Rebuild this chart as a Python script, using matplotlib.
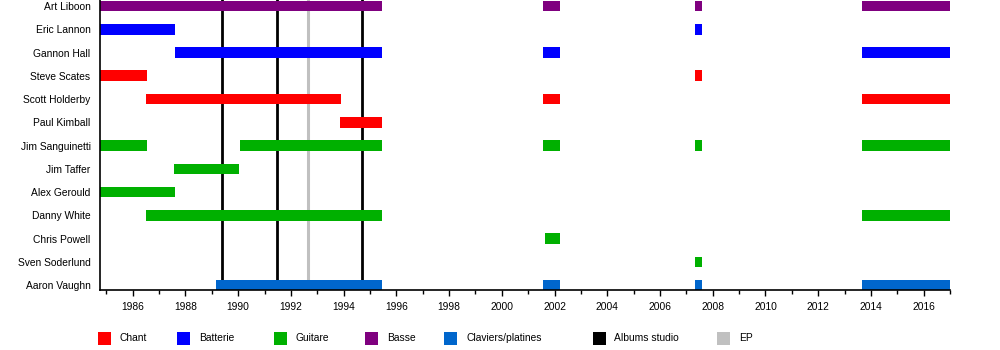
import matplotlib
matplotlib.use("Agg")
import matplotlib.pyplot as plt
from matplotlib.patches import Rectangle
from matplotlib.ticker import MultipleLocator

plt.rcParams["font.family"] = ["Liberation Sans", "DejaVu Sans"]

# Timeline range
START = 1984.77
END = 2017.0

# Members, top to bottom, with their role
members = ["Art Liboon", "Eric Lannon", "Gannon Hall", "Steve Scates",
           "Scott Holderby", "Paul Kimball", "Jim Sanguinetti", "Jim Taffer",
           "Alex Gerould", "Danny White", "Chris Powell", "Sven Soderlund",
           "Aaron Vaughn"]
member_roles = ["Basse", "Batterie", "Batterie", "Chant",
                "Chant", "Chant", "Guitare", "Guitare",
                "Guitare", "Guitare", "Guitare", "Guitare",
                "Claviers/platines"]

# Active periods of each member (start, end)
periods = [
    [(START, 1995.45), (2001.56, 2002.19), (2007.34, 2007.61), (2013.68, END)],
    [(START, 1987.60), (2007.34, 2007.61)],
    [(1987.60, 1995.45), (2001.56, 2002.19), (2013.68, END)],
    [(START, 1986.53), (2007.34, 2007.61)],
    [(1986.51, 1993.89), (2001.56, 2002.19), (2013.68, END)],
    [(1993.87, 1995.45)],
    [(START, 1986.53), (1990.07, 1995.45), (2001.56, 2002.19),
     (2007.34, 2007.61), (2013.68, END)],
    [(1987.57, 1990.03)],
    [(START, 1987.60)],
    [(1986.51, 1995.45), (2013.68, END)],
    [(2001.65, 2002.19)],
    [(2007.34, 2007.61)],
    [(1989.16, 1995.45), (2001.56, 2002.19), (2007.34, 2007.61), (2013.68, END)],
]

# Releases
studio_albums = [1989.40, 1991.49, 1994.69]
eps = [1992.66]

role_names = ["Chant", "Batterie", "Guitare", "Basse", "Claviers/platines"]
role_colors = {
    "Chant": "#FF0000",
    "Batterie": "#0000FF",
    "Guitare": "#00B000",
    "Basse": "#7F007F",
    "Claviers/platines": "#0066CC",
}
album_color = "#000000"
ep_color = "#C0C0C0"

FS = 7.4

W, H = 1000, 350
fig = plt.figure(figsize=(W / 100, H / 100), dpi=100)
ax_left, ax_right, ax_bottom_px = 100.3, 950.0, 290.3
ax = fig.add_axes([ax_left / W, 1 - ax_bottom_px / H,
                   (ax_right - ax_left) / W, ax_bottom_px / H])

n = len(members)
ypos = [n - 1 - i for i in range(n)]

for x in studio_albums:
    ax.axvline(x, color=album_color, lw=2.0, zorder=1)
for x in eps:
    ax.axvline(x, color=ep_color, lw=2.2, zorder=1)

for y, role, spans in zip(ypos, member_roles, periods):
    lefts = [s for s, e in spans]
    widths = [e - s for s, e in spans]
    ax.barh([y] * len(spans), widths, left=lefts, height=0.46,
            color=role_colors[role], linewidth=0, zorder=2)

ax.set_xlim(START, END)
ax.set_ylim(-0.22, n - 1 + 0.26)
ax.set_yticks(ypos)
ax.set_yticklabels(members, fontsize=FS)
ax.tick_params(axis="y", length=0, pad=7)

ax.xaxis.set_major_locator(MultipleLocator(2))
ax.xaxis.set_minor_locator(MultipleLocator(1))
ax.tick_params(axis="x", which="major", direction="out", length=4.3,
               width=1.0, pad=4, labelsize=FS)
ax.tick_params(axis="x", which="minor", direction="out", length=2.8, width=1.0)

for side in ("top", "right"):
    ax.spines[side].set_visible(False)
for side in ("left", "bottom"):
    ax.spines[side].set_linewidth(1.2)
    ax.spines[side].set_color("black")

# Legend row
legend_labels = role_names + ["Albums studio", "EP"]
legend_colors = [role_colors[r] for r in role_names] + [album_color, ep_color]
square_x = [97.7, 176.7, 274.0, 365.0, 444.4, 592.6, 717.0]
text_x = [120.0, 199.3, 296.0, 387.0, 466.7, 614.5, 739.0]
sq = 13.0
legend_cy = 338.3
for lab, col, sx, tx in zip(legend_labels, legend_colors, square_x, text_x):
    fig.add_artist(Rectangle((sx / W, 1 - (legend_cy + sq / 2) / H),
                             sq / W, sq / H, transform=fig.transFigure,
                             facecolor=col, edgecolor="none"))
    fig.text(tx / W, 1 - legend_cy / H, lab, fontsize=FS,
             va="center", ha="left")

fig.savefig("out.png", dpi=100)
